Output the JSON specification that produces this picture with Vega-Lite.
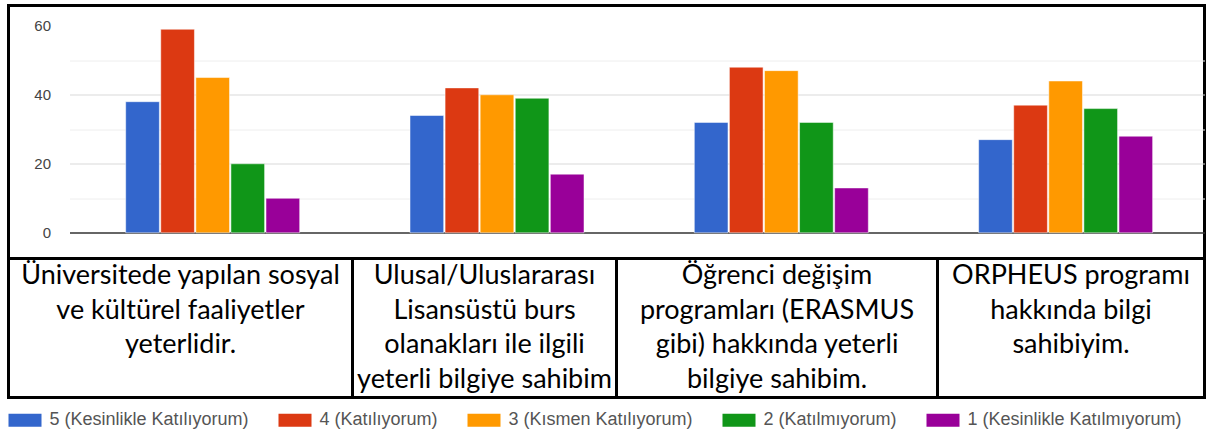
{
  "$schema": "https://vega.github.io/schema/vega-lite/v6.json",
  "padding": {"left": 6.5, "top": 3.5, "right": 0, "bottom": 0},
  "background": "white",
  "datasets": {
    "bars": [
      {"soru": "Üniversitede yapılan sosyal ve kültürel faaliyetler yeterlidir.", "yanit": "5 (Kesinlikle Katılıyorum)", "sayi": 38},
      {"soru": "Üniversitede yapılan sosyal ve kültürel faaliyetler yeterlidir.", "yanit": "4 (Katılıyorum)", "sayi": 59},
      {"soru": "Üniversitede yapılan sosyal ve kültürel faaliyetler yeterlidir.", "yanit": "3 (Kısmen Katılıyorum)", "sayi": 45},
      {"soru": "Üniversitede yapılan sosyal ve kültürel faaliyetler yeterlidir.", "yanit": "2 (Katılmıyorum)", "sayi": 20},
      {"soru": "Üniversitede yapılan sosyal ve kültürel faaliyetler yeterlidir.", "yanit": "1 (Kesinlikle Katılmıyorum)", "sayi": 10},
      {"soru": "Ulusal/Uluslararası Lisansüstü burs olanakları ile ilgili yeterli bilgiye sahibim", "yanit": "5 (Kesinlikle Katılıyorum)", "sayi": 34},
      {"soru": "Ulusal/Uluslararası Lisansüstü burs olanakları ile ilgili yeterli bilgiye sahibim", "yanit": "4 (Katılıyorum)", "sayi": 42},
      {"soru": "Ulusal/Uluslararası Lisansüstü burs olanakları ile ilgili yeterli bilgiye sahibim", "yanit": "3 (Kısmen Katılıyorum)", "sayi": 40},
      {"soru": "Ulusal/Uluslararası Lisansüstü burs olanakları ile ilgili yeterli bilgiye sahibim", "yanit": "2 (Katılmıyorum)", "sayi": 39},
      {"soru": "Ulusal/Uluslararası Lisansüstü burs olanakları ile ilgili yeterli bilgiye sahibim", "yanit": "1 (Kesinlikle Katılmıyorum)", "sayi": 17},
      {"soru": "Öğrenci değişim programları (ERASMUS gibi) hakkında yeterli bilgiye sahibim.", "yanit": "5 (Kesinlikle Katılıyorum)", "sayi": 32},
      {"soru": "Öğrenci değişim programları (ERASMUS gibi) hakkında yeterli bilgiye sahibim.", "yanit": "4 (Katılıyorum)", "sayi": 48},
      {"soru": "Öğrenci değişim programları (ERASMUS gibi) hakkında yeterli bilgiye sahibim.", "yanit": "3 (Kısmen Katılıyorum)", "sayi": 47},
      {"soru": "Öğrenci değişim programları (ERASMUS gibi) hakkında yeterli bilgiye sahibim.", "yanit": "2 (Katılmıyorum)", "sayi": 32},
      {"soru": "Öğrenci değişim programları (ERASMUS gibi) hakkında yeterli bilgiye sahibim.", "yanit": "1 (Kesinlikle Katılmıyorum)", "sayi": 13},
      {"soru": "ORPHEUS programı hakkında bilgi sahibiyim.", "yanit": "5 (Kesinlikle Katılıyorum)", "sayi": 27},
      {"soru": "ORPHEUS programı hakkında bilgi sahibiyim.", "yanit": "4 (Katılıyorum)", "sayi": 37},
      {"soru": "ORPHEUS programı hakkında bilgi sahibiyim.", "yanit": "3 (Kısmen Katılıyorum)", "sayi": 44},
      {"soru": "ORPHEUS programı hakkında bilgi sahibiyim.", "yanit": "2 (Katılmıyorum)", "sayi": 36},
      {"soru": "ORPHEUS programı hakkında bilgi sahibiyim.", "yanit": "1 (Kesinlikle Katılmıyorum)", "sayi": 28}
    ],
    "cells": [
      {"hucre": 1, "satir": 1, "metin": "Üniversitede  yapılan sosyal"},
      {"hucre": 1, "satir": 2, "metin": "ve kültürel faaliyetler"},
      {"hucre": 1, "satir": 3, "metin": "yeterlidir."},
      {"hucre": 2, "satir": 1, "metin": "Ulusal/Uluslararası"},
      {"hucre": 2, "satir": 2, "metin": "Lisansüstü burs"},
      {"hucre": 2, "satir": 3, "metin": "olanakları ile ilgili"},
      {"hucre": 2, "satir": 4, "metin": "yeterli bilgiye sahibim"},
      {"hucre": 3, "satir": 1, "metin": "Öğrenci değişim"},
      {"hucre": 3, "satir": 2, "metin": "programları (ERASMUS"},
      {"hucre": 3, "satir": 3, "metin": "gibi) hakkında yeterli"},
      {"hucre": 3, "satir": 4, "metin": "bilgiye sahibim."},
      {"hucre": 4, "satir": 1, "metin": "ORPHEUS programı"},
      {"hucre": 4, "satir": 2, "metin": "hakkında bilgi"},
      {"hucre": 4, "satir": 3, "metin": "sahibiyim."}
    ]
  },
  "bounds": "flush",
  "spacing": 0,
  "resolve": {"scale": {"color": "shared"}, "legend": {"color": "shared"}},
  "vconcat": [
    {
      "width": 1196,
      "height": 253,
      "data": {"name": "bars"},
      "mark": {"type": "bar", "stroke": "white", "strokeWidth": 1, "strokeOpacity": 0.5},
      "encoding": {
        "x": {
          "field": "soru", "type": "nominal", "sort": null,
          "scale": {"range": [61, 1196], "paddingInner": 0.388, "paddingOuter": 0.19, "align": 0.52},
          "axis": null
        },
        "xOffset": {
          "field": "yanit", "type": "nominal", "sort": null,
          "scale": {"paddingInner": 0.04, "paddingOuter": 0}
        },
        "y": {
          "field": "sayi", "type": "quantitative",
          "scale": {"domain": [-7.45, 65.88], "nice": false, "zero": false},
          "axis": {
            "orient": "left", "offset": -61, "title": null,
            "values": [0, 10, 20, 30, 40, 50, 60],
            "labelExpr": "datum.value % 20 === 0 ? datum.label : ''",
            "ticks": false, "domain": false, "labelPadding": 19,
            "labelFont": "Liberation Sans", "labelFontSize": 15, "labelColor": "#444444",
            "grid": true,
            "gridColor": {"condition": [
              {"test": "datum.value === 0", "value": "#333333"},
              {"test": "datum.value === 60", "value": "rgba(0,0,0,0)"},
              {"test": "datum.value % 20 === 0", "value": "#d9d9d9"}
            ], "value": "#eeeeee"},
            "gridWidth": {"condition": {"test": "datum.value === 0", "value": 1.5}, "value": 1}
          }
        },
        "y2": {"datum": 0},
        "color": {
          "field": "yanit", "type": "nominal", "sort": null,
          "scale": {
            "domain": ["5 (Kesinlikle Katılıyorum)", "4 (Katılıyorum)", "3 (Kısmen Katılıyorum)", "2 (Katılmıyorum)", "1 (Kesinlikle Katılmıyorum)"],
            "range": ["#3366cc", "#dc3912", "#ff9900", "#109618", "#990099"]
          },
          "legend": {
            "orient": "bottom", "direction": "horizontal", "title": null,
            "symbolType": "M-1,-0.4H1V0.4H-1Z", "symbolSize": 1089, "symbolStrokeWidth": 0,
            "labelFont": "Liberation Sans", "labelFontSize": 18, "labelColor": "#555555",
            "labelLimit": 0,
            "columnPadding": 29, "labelOffset": 8, "offset": 4
          }
        }
      }
    },
    {
      "bounds": "flush",
      "spacing": 0,
      "hconcat": [
        {
          "width": 344, "height": 139,
          "data": {"name": "cells"},
          "transform": [{"filter": "datum.hucre === 1"}],
          "mark": {"type": "text", "font": "Lato", "fontSize": 27, "fontWeight": "normal", "color": "black"},
          "encoding": {
            "y": {"field": "satir", "type": "ordinal", "scale": {"type": "point", "domain": [1, 2, 3, 4], "padding": 0.5}, "axis": null},
            "text": {"field": "metin"}
          }
        },
        {
          "width": 264, "height": 139,
          "data": {"name": "cells"},
          "transform": [{"filter": "datum.hucre === 2"}],
          "mark": {"type": "text", "font": "Lato", "fontSize": 27, "fontWeight": "normal", "color": "black"},
          "encoding": {
            "y": {"field": "satir", "type": "ordinal", "scale": {"type": "point", "domain": [1, 2, 3, 4], "padding": 0.5}, "axis": null},
            "text": {"field": "metin"}
          }
        },
        {
          "width": 321, "height": 139,
          "data": {"name": "cells"},
          "transform": [{"filter": "datum.hucre === 3"}],
          "mark": {"type": "text", "font": "Lato", "fontSize": 27, "fontWeight": "normal", "color": "black"},
          "encoding": {
            "y": {"field": "satir", "type": "ordinal", "scale": {"type": "point", "domain": [1, 2, 3, 4], "padding": 0.5}, "axis": null},
            "text": {"field": "metin"}
          }
        },
        {
          "width": 267, "height": 139,
          "data": {"name": "cells"},
          "transform": [{"filter": "datum.hucre === 4"}],
          "mark": {"type": "text", "font": "Lato", "fontSize": 27, "fontWeight": "normal", "color": "black"},
          "encoding": {
            "y": {"field": "satir", "type": "ordinal", "scale": {"type": "point", "domain": [1, 2, 3, 4], "padding": 0.5}, "axis": null},
            "text": {"field": "metin"}
          }
        }
      ]
    }
  ],
  "config": {
    "view": {"stroke": "black", "strokeWidth": 3},
    "font": "Liberation Sans"
  }
}
